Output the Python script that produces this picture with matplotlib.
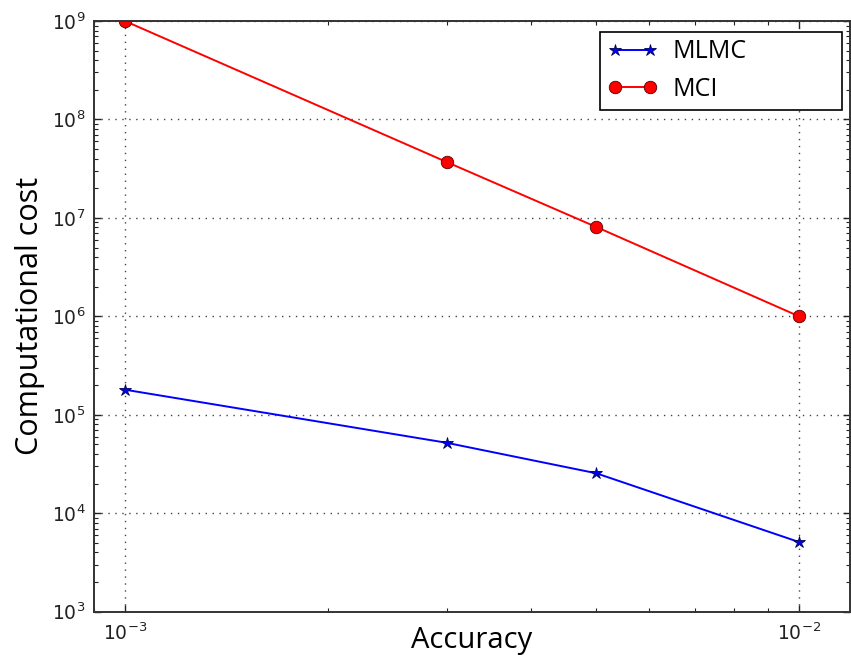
import matplotlib
matplotlib.use("Agg")
import matplotlib.pyplot as plt
from matplotlib.ticker import NullFormatter

accuracy = [0.001, 0.003, 0.005, 0.01]
mlmc_cost = [1.8e5, 5.2e4, 2.55e4, 5.1e3]
mci_cost = [1.0e9, 3.7e7, 8.1e6, 1.0e6]
series_labels = ["MLMC", "MCI"]
x_label = "Accuracy"
y_label = "Computational cost"

plt.rcParams['mathtext.fontset'] = 'dejavusans'
plt.rcParams['mathtext.default'] = 'regular'
label_font = ['Open Sans', 'DejaVu Sans']

fig = plt.figure(figsize=(8.51, 6.59), dpi=100, facecolor='white')
ax = fig.add_axes([94/851, 1-611.7/659, (850-94)/851, (611.7-21)/659])

ax.plot(accuracy, mlmc_cost, color='blue', marker='*', markersize=9,
        markeredgecolor='#000055', markeredgewidth=0.6, lw=1.4, label=series_labels[0])
ax.plot(accuracy, mci_cost, color='red', marker='o', markersize=9,
        markeredgecolor='#550000', markeredgewidth=0.6, lw=1.4, label=series_labels[1])

ax.set_xscale('log')
ax.set_yscale('log')
ax.set_xlim(9.0e-4, 0.0119)
ax.set_ylim(1e3, 1e9)
ax.xaxis.set_minor_formatter(NullFormatter())
ax.yaxis.set_minor_formatter(NullFormatter())
ax.xaxis.offsetText.set_visible(False)
ax.yaxis.offsetText.set_visible(False)

ax.grid(True, which='major', linestyle=(0, (1, 4)), color='#444444', linewidth=1.0)
ax.tick_params(which='both', direction='in', top=True, right=True, labelsize=13.5,
               colors='#222222')
ax.tick_params(which='major', length=5, width=1)
ax.tick_params(which='minor', length=3, width=0.8)
ax.tick_params(axis='x', pad=8)
ax.tick_params(axis='y', pad=6)
for s in ax.spines.values():
    s.set_linewidth(1.4)
    s.set_color('#333333')

ax.set_xlabel(x_label, fontsize=21, family=label_font, labelpad=-13)
ax.set_ylabel(y_label, fontsize=22, family=label_font, labelpad=5)

leg = ax.legend(loc='upper left', mode='expand', numpoints=2, fancybox=False, framealpha=1,
                edgecolor='black', prop={'family': label_font, 'size': 18},
                borderaxespad=0, handlelength=2.0, borderpad=0.3, labelspacing=0.5,
                handletextpad=0.6,
                bbox_to_anchor=(600/851, 1-109/659, 242/851, 77/659),
                bbox_transform=fig.transFigure)
leg.get_frame().set_linewidth(1.2)

fig.savefig('out.png', dpi=100, facecolor='white')
